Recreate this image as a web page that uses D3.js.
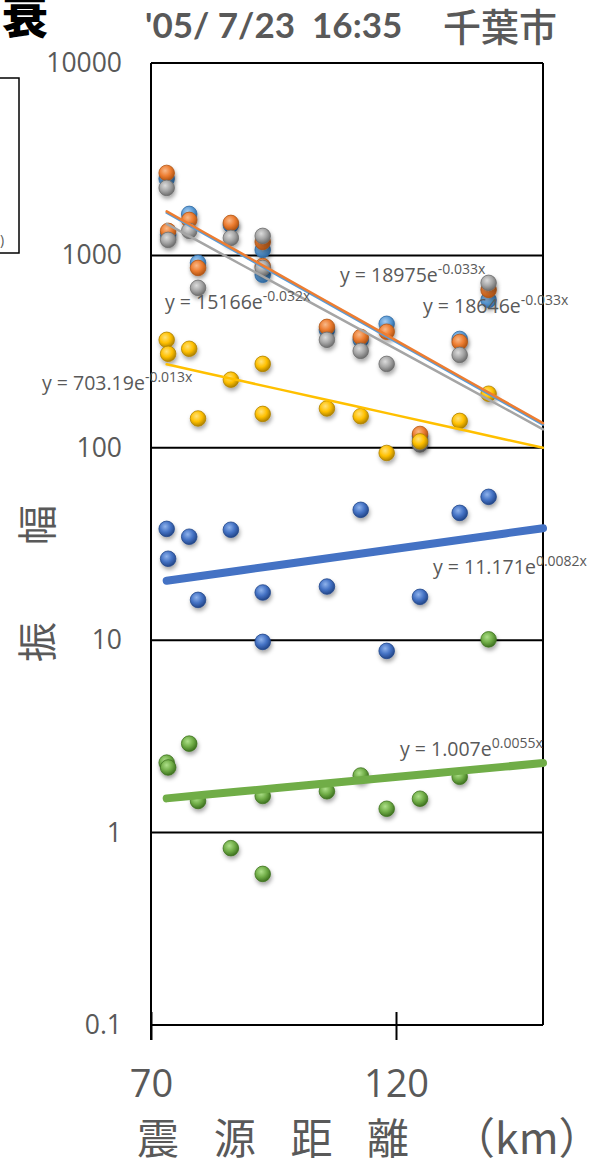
<!DOCTYPE html>
<html>
<head>
<meta charset="utf-8">
<script src="https://cdn.jsdelivr.net/npm/d3@7"></script>
<style>
  html, body { margin: 0; padding: 0; background: #fff; }
  svg { display: block; }
</style>
</head>
<body>
<div id="chart"></div>
<script>
// Epicentral distance of each station (km)
const distances = [73.2, 73.5, 77.8, 79.6, 86.3, 92.8, 92.8, 105.9, 112.8, 118.1, 124.9, 133.0, 138.9];

// Amplitudes at each station, one array per series
const ampSkyBlue = [2500, 1280, 1643, 915, 1440, 1068, 793, 410, 364, 441, 115, 368, 587];
const ampOrange  = [2683, 1341, 1529, 861, 1475, 1175, 880, 425, 377, 401, 118, 355, 662];
const ampGray    = [2243, 1204, 1341, 678, 1233, 1263, 861, 364, 319, 273, 104, 304, 720];
const ampGold    = [364, 308, 327, 142, 226, 273, 150, 160, 146, 94, 108, 138, 191];
const ampBlue    = [37.9, 26.5, 34.5, 16.2, 37.5, 17.7, 9.8, 19.0, 47.6, 8.8, 16.8, 45.9, 55.6];
const ampGreen   = [2.31, 2.18, 2.90, 1.46, 0.83, 1.55, 0.61, 1.64, 1.98, 1.33, 1.50, 1.95, 10.1];

// Exponential trend fits  y = a * e^(b x)
const trendA = [18646, 18975, 15166, 703.19, 11.171, 1.007];
const trendB = [-0.033, -0.033, -0.032, -0.013, 0.0082, 0.0055];

// Axis ticks
const yTicks = [0.1, 1, 10, 100, 1000, 10000];
const yTickLabels = ["0.1", "1", "10", "100", "1000", "10000"];
const xTicks = [70, 120];

const headerText = "'05/ 7/23  16:35";
const placeText = "千葉市";

const W = 604, H = 1168;
const plot = { left: 151, right: 543, top: 63, bottom: 1025 };

const x = d3.scaleLinear().domain([70, 150]).range([plot.left, plot.right]);
const y = d3.scaleLog().domain([0.1, 10000]).range([plot.bottom, plot.top]);

const series = [
  { name: "sky",    values: ampSkyBlue, color: "#5B9BD5", light: "#a9cdf0", dark: "#2f6aa3", lw: 2.5, trend: 0 },
  { name: "orange", values: ampOrange,  color: "#ED7D31", light: "#f8b98a", dark: "#b25514", lw: 2.5, trend: 1 },
  { name: "gray",   values: ampGray,    color: "#A5A5A5", light: "#dcdcdc", dark: "#6e6e6e", lw: 2.5, trend: 2 },
  { name: "gold",   values: ampGold,    color: "#FFC000", light: "#ffe27a", dark: "#b08300", lw: 2.5, trend: 3 },
  { name: "blue",   values: ampBlue,    color: "#4472C4", light: "#8fb3ec", dark: "#23478a", lw: 8,   trend: 4 },
  { name: "green",  values: ampGreen,   color: "#70AD47", light: "#aee08a", dark: "#3f7320", lw: 8,   trend: 5 }
];

const svg = d3.select("#chart").append("svg")
  .attr("width", W).attr("height", H)
  .style("font-family", "'Open Sans', 'Noto Sans', sans-serif");

const defs = svg.append("defs");
series.forEach(s => {
  const g = defs.append("radialGradient")
    .attr("id", "ball-" + s.name)
    .attr("cx", "40%").attr("cy", "35%").attr("r", "65%");
  g.append("stop").attr("offset", "0%").attr("stop-color", s.light);
  g.append("stop").attr("offset", "55%").attr("stop-color", s.color);
  g.append("stop").attr("offset", "100%").attr("stop-color", s.dark);
});
const shadow = defs.append("filter").attr("id", "drop")
  .attr("x", "-50%").attr("y", "-50%").attr("width", "200%").attr("height", "220%");
shadow.append("feDropShadow").attr("dx", 1).attr("dy", 3)
  .attr("stdDeviation", 2).attr("flood-color", "#000").attr("flood-opacity", 0.35);

defs.append("clipPath").attr("id", "labelClip")
  .append("rect").attr("x", 0).attr("y", 0).attr("width", plot.right + 3).attr("height", H);

// Header: tail of the title, date/time and place
svg.append("text")
  .attr("x", 48).attr("y", 33)
  .attr("text-anchor", "end")
  .style("font-family", "'Noto Sans CJK JP', sans-serif")
  .style("font-weight", 900)
  .style("font-size", "46px")
  .attr("fill", "#000")
  .text("衰");

svg.append("text")
  .attr("x", 145).attr("y", 38)
  .style("font-family", "Lato, 'Open Sans', sans-serif")
  .style("font-weight", 700)
  .style("font-size", "35px")
  .attr("fill", "#595959")
  .attr("xml:space", "preserve")
  .text(headerText);

svg.append("text")
  .attr("x", 443).attr("y", 41)
  .style("font-family", "'Noto Sans CJK JP', sans-serif")
  .style("font-weight", 500)
  .style("font-size", "38px")
  .attr("fill", "#595959")
  .text(placeText);

// Legend box cut at the left edge
svg.append("rect")
  .attr("x", -20).attr("y", 78).attr("width", 39).attr("height", 175)
  .attr("fill", "none").attr("stroke", "#000").attr("stroke-width", 1.5);
svg.append("text")
  .attr("x", 0).attr("y", 245)
  .style("font-size", "14px").attr("fill", "#595959")
  .text(")");

// Horizontal gridlines at each decade
svg.append("g").selectAll("line")
  .data(yTicks)
  .join("line")
  .attr("x1", plot.left).attr("x2", plot.right)
  .attr("y1", d => y(d)).attr("y2", d => y(d))
  .attr("stroke", "#000").attr("stroke-width", 2);

// Plot frame
svg.append("line").attr("x1", plot.left).attr("x2", plot.left)
  .attr("y1", plot.top).attr("y2", plot.bottom + 15)
  .attr("stroke", "#000").attr("stroke-width", 2);
svg.append("line").attr("x1", plot.right).attr("x2", plot.right)
  .attr("y1", plot.top).attr("y2", plot.bottom)
  .attr("stroke", "#000").attr("stroke-width", 2);

// Y axis labels
const yAxis = d3.axisLeft(y)
  .tickValues(yTicks)
  .tickFormat((d, i) => yTickLabels[i])
  .tickSize(0)
  .tickPadding(29);
const gy = svg.append("g").attr("transform", `translate(${plot.left},0)`).call(yAxis);
gy.select(".domain").remove();
gy.selectAll("text")
  .style("font-family", "'Open Sans', sans-serif")
  .style("font-size", "26.5px")
  .attr("fill", "#595959");

// X axis: cross ticks and labels
const xAxis = d3.axisBottom(x)
  .tickValues(xTicks)
  .tickFormat(d3.format("d"))
  .tickSize(28)
  .tickPadding(30);
const gx = svg.append("g").attr("transform", `translate(0,${plot.bottom - 13})`).call(xAxis);
gx.select(".domain").remove();
gx.selectAll("line").attr("stroke", "#000").attr("stroke-width", 2);
gx.selectAll("text")
  .style("font-family", "'Open Sans', sans-serif")
  .style("font-size", "38px")
  .attr("fill", "#595959");

// Axis titles
const titleFont = "'Noto Sans CJK JP', sans-serif";
const xTitle = ["震", "源", "距", "離"];
svg.append("g").selectAll("text")
  .data(xTitle)
  .join("text")
  .attr("x", (d, i) => 158 + i * 76.7)
  .attr("y", 1154)
  .attr("text-anchor", "middle")
  .style("font-family", titleFont)
  .style("font-size", "42px")
  .attr("fill", "#595959")
  .text(d => d);
svg.append("text")
  .attr("x", 452).attr("y", 1154)
  .style("font-family", titleFont)
  .style("font-size", "43px")
  .attr("fill", "#595959")
  .text("（km）");

[["幅", 525], ["振", 642]].forEach(([ch, cy]) => {
  svg.append("text")
    .attr("transform", `translate(38,${cy}) rotate(-90)`)
    .attr("text-anchor", "middle")
    .attr("dy", "0.36em")
    .style("font-family", titleFont)
    .style("font-size", "40px")
    .attr("fill", "#595959")
    .text(ch);
});

// Markers
const markers = svg.append("g");
series.forEach(s => {
  markers.append("g").selectAll("circle")
    .data(s.values.map((v, i) => ({ d: distances[i], v })))
    .join("circle")
    .attr("cx", p => x(p.d))
    .attr("cy", p => y(p.v))
    .attr("r", 7.8)
    .attr("fill", `url(#ball-${s.name})`)
    .attr("stroke", s.dark)
    .attr("stroke-width", 0.8)
    .attr("filter", "url(#drop)");
});

// Trend lines drawn over the markers
const xStart = d3.min(distances), xEnd = 150;
const trendLine = d3.line().x(p => x(p[0])).y(p => y(p[1]));
series.forEach(s => {
  const a = trendA[s.trend], b = trendB[s.trend];
  const pts = d3.range(0, 11).map(k => {
    const xv = xStart + (xEnd - xStart) * k / 10;
    return [xv, a * Math.exp(b * xv)];
  });
  svg.append("path")
    .datum(pts)
    .attr("d", trendLine)
    .attr("fill", "none")
    .attr("stroke", s.color)
    .attr("stroke-width", s.lw)
    .attr("stroke-linecap", "round");
});

// Trend equations
const fmtExp = b => (b < 0 ? "-" : "") + Math.abs(b).toString() + "x";
const eqLabels = [
  { t: 0, x: 423, y: 313, clip: false },
  { t: 1, x: 340, y: 282, clip: false },
  { t: 2, x: 165, y: 309, clip: false },
  { t: 3, x: 42,  y: 390, clip: false },
  { t: 4, x: 433, y: 574, clip: false },
  { t: 5, x: 400, y: 756, clip: true }
];
eqLabels.forEach(l => {
  const txt = svg.append("text")
    .attr("x", l.x).attr("y", l.y)
    .style("font-family", "'Open Sans', sans-serif")
    .style("font-size", "19.5px")
    .attr("fill", "#595959")
    .attr("xml:space", "preserve");
  if (l.clip) txt.attr("clip-path", "url(#labelClip)");
  txt.append("tspan").text(`y = ${trendA[l.t]}e`);
  txt.append("tspan")
    .attr("dy", -8)
    .style("font-size", "14px")
    .text(fmtExp(trendB[l.t]));
});
</script>
</body>
</html>
